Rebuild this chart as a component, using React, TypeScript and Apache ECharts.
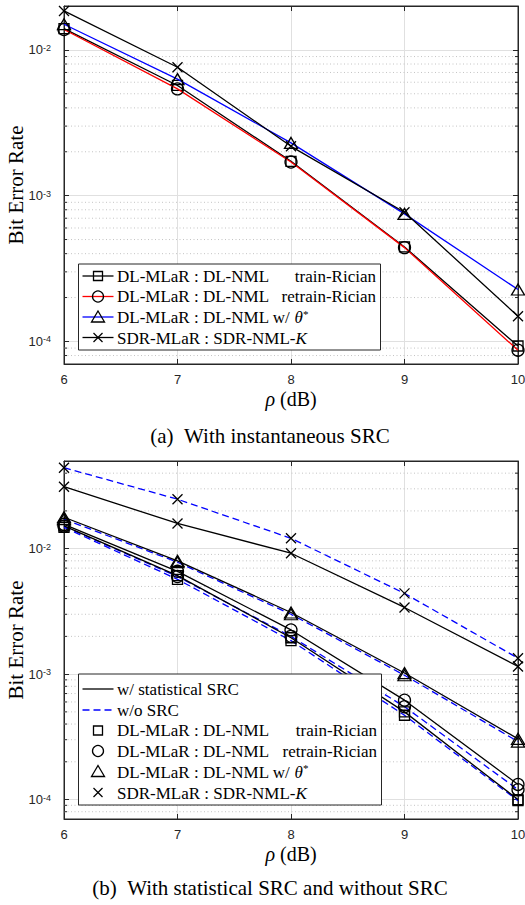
import React, { useEffect, useRef } from "react";
import * as echarts from "echarts";

// ---------- data ----------
const rhoDb = [6, 7, 8, 9, 10];

// (a) With instantaneous SRC
const aDlTrainRician = [0.014, 0.0057, 0.00172, 0.000445, 0.000093];
const aDlRetrainRician = [0.0138, 0.0054, 0.0017, 0.00044, 0.000087];
const aDlThetaStar = [0.015, 0.0063, 0.0023, 0.00075, 0.000227];
const aSdrNmlK = [0.0185, 0.0076, 0.00218, 0.00077, 0.000149];

// (b) w/ statistical SRC (solid) and w/o SRC (dashed)
const bStatTrainRician = [0.0152, 0.0061, 0.00195, 0.0005, 0.0001];
const bStatRetrainRician = [0.0156, 0.0066, 0.00225, 0.00062, 0.000132];
const bStatThetaStar = [0.0178, 0.008, 0.0031, 0.00102, 0.000305];
const bStatSdrNmlK = [0.0312, 0.0159, 0.0092, 0.0034, 0.00115];
const bNoTrainRician = [0.0148, 0.0057, 0.00185, 0.00047, 0.000098];
const bNoRetrainRician = [0.0151, 0.006, 0.002, 0.00055, 0.00012];
const bNoThetaStar = [0.0172, 0.0078, 0.003, 0.00098, 0.00029];
const bNoSdrNmlK = [0.0442, 0.0248, 0.0121, 0.0044, 0.00134];

const aYRange = [7e-5, 0.02];
const bYRange = [7e-5, 0.05];
const aMinorTicks = [8e-5, 9e-5, 2e-4, 3e-4, 4e-4, 5e-4, 6e-4, 7e-4, 8e-4, 9e-4, 2e-3, 3e-3, 4e-3, 5e-3, 6e-3, 7e-3, 8e-3, 9e-3];
const bMinorTicks = [8e-5, 9e-5, 2e-4, 3e-4, 4e-4, 5e-4, 6e-4, 7e-4, 8e-4, 9e-4, 2e-3, 3e-3, 4e-3, 5e-3, 6e-3, 7e-3, 8e-3, 9e-3, 2e-2, 3e-2, 4e-2];

const xTitle = "{i|ρ} (dB)";
const yTitle = "Bit Error Rate";
const captionA = "(a)\u2002With instantaneous SRC";
const captionB = "(b)\u2002With statistical SRC and without SRC";

const legendMethodDl = "DL-MLaR : DL-NML";
const legendTrain = "train-Rician";
const legendRetrain = "retrain-Rician";
const legendTheta = "{n|DL-MLaR : DL-NML w/ }{i|θ}{s|*}";
const legendSdr = "{n|SDR-MLaR : SDR-NML-}{i|K}";
const legendStat = "w/ statistical SRC";
const legendNoSrc = "w/o SRC";

// ---------- styling ----------
const SERIF = "'Liberation Serif', 'Times New Roman', serif";
const SANS = "'Liberation Sans', Arial, Helvetica, sans-serif";
const AX = "#262626";
const RED = "#ff0000";
const BLUE = "#0000ff";
const BLACK = "#000000";
const DASH = [7, 4];

const SYM: Record<string, string> = {
  square: "rect",
  circle: "circle",
  triangle: "triangle",
  x: "path://M0,0L10,10M10,0L0,10",
};
const SYM_SIZE: Record<string, any> = {
  square: 10,
  circle: 12,
  triangle: [13, 11],
  x: 10,
};

function lineSeries(name: string, values: number[], color: string, marker: string, dashed: boolean, gi: number, z = 3) {
  return {
    type: "line",
    name,
    xAxisIndex: gi * 2,
    yAxisIndex: gi * 2,
    data: rhoDb.map((x, i) => [x, values[i]]),
    symbol: SYM[marker],
    symbolSize: SYM_SIZE[marker],
    showSymbol: true,
    lineStyle: { color, width: 1.3, type: dashed ? DASH : "solid" },
    itemStyle: { color: "rgba(0,0,0,0)", borderColor: BLACK, borderWidth: 1.3 },
    emphasis: { disabled: true },
    silent: true,
    z,
  };
}

function minorSeries(vals: number[], gi: number) {
  return {
    type: "custom",
    xAxisIndex: gi * 2,
    yAxisIndex: gi * 2,
    data: vals.map((v) => [6, v]),
    encode: { x: 0, y: 1 },
    z: 1,
    silent: true,
    renderItem: (_params: any, api: any) => {
      const v = api.value(1);
      const p1 = api.coord([6, v]);
      const p2 = api.coord([10, v]);
      return {
        type: "group",
        children: [
          { type: "line", shape: { x1: p1[0], y1: p1[1], x2: p2[0], y2: p2[1] }, style: { stroke: "#c4c4c4", lineWidth: 1, lineDash: [1, 2.5] } },
          { type: "line", shape: { x1: p1[0], y1: p1[1], x2: p1[0] + 3, y2: p1[1] }, style: { stroke: AX, lineWidth: 1 } },
          { type: "line", shape: { x1: p2[0] - 3, y1: p2[1], x2: p2[0], y2: p2[1] }, style: { stroke: AX, lineWidth: 1 } },
        ],
      };
    },
  };
}

const logLabel = (v: number) => {
  const l = Math.log10(v);
  const e = Math.round(l);
  if (Math.abs(l - e) > 1e-6) return "";
  return `{b|10}{s|${e}}`;
};

function xMain(gi: number) {
  return {
    type: "value",
    gridIndex: gi,
    min: 6,
    max: 10,
    interval: 1,
    position: "bottom",
    name: xTitle,
    nameLocation: "middle",
    nameGap: 26,
    nameMoveOverlap: false,
    nameTextStyle: {
      fontFamily: SERIF,
      fontSize: 20,
      lineHeight: 17,
      color: BLACK,
      rich: { i: { fontFamily: SERIF, fontSize: 20, lineHeight: 17, fontStyle: "italic", color: BLACK } },
    },
    axisLine: { show: true, onZero: false, lineStyle: { color: AX, width: 1 } },
    axisTick: { show: true, inside: true, length: 5, lineStyle: { color: AX, width: 1 } },
    axisLabel: { show: true, fontFamily: SANS, fontSize: 13, lineHeight: 12, color: AX, margin: 9 },
    splitLine: { show: true, showMinLine: false, showMaxLine: false, lineStyle: { color: "#e0e0e0", width: 1 } },
  };
}
function xTop(gi: number) {
  return {
    type: "value",
    gridIndex: gi,
    min: 6,
    max: 10,
    interval: 1,
    position: "top",
    axisLine: { show: true, onZero: false, lineStyle: { color: AX, width: 1 } },
    axisTick: { show: true, inside: true, length: 5, lineStyle: { color: AX, width: 1 } },
    axisLabel: { show: false },
    splitLine: { show: false },
  };
}
function yLeft(gi: number, range: number[]) {
  return {
    type: "log",
    logBase: 10,
    gridIndex: gi,
    min: range[0],
    max: range[1],
    position: "left",
    name: yTitle,
    nameLocation: "middle",
    nameGap: 38,
    nameRotate: 90,
    nameMoveOverlap: false,
    nameTextStyle: { fontFamily: SERIF, fontSize: 21, color: BLACK },
    axisLine: { show: true, lineStyle: { color: AX, width: 1 } },
    axisTick: { show: true, inside: true, length: 5, lineStyle: { color: AX, width: 1 } },
    axisLabel: {
      show: true,
      margin: 13,
      formatter: logLabel,
      rich: {
        b: { fontFamily: SANS, fontSize: 13, color: AX, lineHeight: 13, verticalAlign: "bottom" },
        s: { fontFamily: SANS, fontSize: 9, color: AX, lineHeight: 10, verticalAlign: "top", padding: [0, 0, 5, 0] },
      },
    },
    splitLine: { show: true, showMinLine: false, showMaxLine: false, lineStyle: { color: "#e0e0e0", width: 1 } },
    minorTick: { show: false },
    minorSplitLine: { show: false },
  };
}
function yRight(gi: number, range: number[]) {
  return {
    type: "log",
    logBase: 10,
    gridIndex: gi,
    min: range[0],
    max: range[1],
    position: "right",
    axisLine: { show: true, lineStyle: { color: AX, width: 1 } },
    axisTick: { show: true, inside: true, length: 5, lineStyle: { color: AX, width: 1 } },
    axisLabel: { show: false },
    splitLine: { show: false },
  };
}

// ---------- legend drawn with graphic elements ----------
const MS = { fill: "none", stroke: BLACK, lineWidth: 1.3 };
function legendMarker(kind: string, cx: number, cy: number): any[] {
  if (kind === "square") return [{ type: "rect", z: 101, shape: { x: cx - 4.5, y: cy - 4.5, width: 9, height: 9 }, style: MS }];
  if (kind === "circle") return [{ type: "circle", z: 101, shape: { cx, cy, r: 5.5 }, style: MS }];
  if (kind === "triangle")
    return [{ type: "polygon", z: 101, shape: { points: [[cx, cy - 6], [cx + 6.5, cy + 5], [cx - 6.5, cy + 5]] }, style: MS }];
  if (kind === "x")
    return [
      { type: "line", z: 101, shape: { x1: cx - 4.5, y1: cy - 4.5, x2: cx + 4.5, y2: cy + 4.5 }, style: { stroke: BLACK, lineWidth: 1.3 } },
      { type: "line", z: 101, shape: { x1: cx + 4.5, y1: cy - 4.5, x2: cx - 4.5, y2: cy + 4.5 }, style: { stroke: BLACK, lineWidth: 1.3 } },
    ];
  return [];
}

const LEG_RICH = {
  n: { fontFamily: SERIF, fontSize: 17, color: BLACK, lineHeight: 18, verticalAlign: "bottom" },
  i: { fontFamily: SERIF, fontSize: 17, fontStyle: "italic", color: BLACK, lineHeight: 18, verticalAlign: "bottom" },
  s: { fontFamily: SERIF, fontSize: 11, color: BLACK, lineHeight: 11, verticalAlign: "top", padding: [0, 0, 7, 0] },
};

function legendText(str: string, x: number, y: number, align = "left"): any {
  return {
    type: "text",
    z: 101,
    x,
    y,
    style: {
      text: str,
      fontFamily: SERIF,
      fontSize: 17,
      fill: BLACK,
      align,
      verticalAlign: "middle",
      rich: LEG_RICH,
    },
  };
}

type Row = { line?: string; dashed?: boolean; marker?: string; text: string; right?: string };

function legendGraphic(box: { x: number; y: number; w: number; h: number }, rows: Row[], rowYs: number[]) {
  const els: any[] = [
    {
      type: "rect",
      z: 100,
      shape: { x: box.x, y: box.y, width: box.w, height: box.h },
      style: { fill: "#ffffff", stroke: AX, lineWidth: 1 },
    },
  ];
  rows.forEach((r, k) => {
    const y = rowYs[k];
    if (r.line) {
      els.push({
        type: "line",
        z: 101,
        shape: { x1: box.x + 4, y1: y, x2: box.x + 35, y2: y },
        style: { stroke: r.line, lineWidth: 1.3, lineDash: r.dashed ? DASH : null },
      });
    }
    if (r.marker) els.push(...legendMarker(r.marker, box.x + 19.5, y));
    els.push(legendText(r.text, box.x + 38.5, y));
    if (r.right) els.push(legendText(r.right, box.x + box.w - 4.5, y, "right"));
  });
  return els;
}

const aLegendRows: Row[] = [
  { line: BLACK, marker: "square", text: legendMethodDl, right: legendTrain },
  { line: RED, marker: "circle", text: legendMethodDl, right: legendRetrain },
  { line: BLUE, marker: "triangle", text: legendTheta },
  { line: BLACK, marker: "x", text: legendSdr },
];
const bLegendRows: Row[] = [
  { line: BLACK, text: legendStat },
  { line: BLUE, dashed: true, text: legendNoSrc },
  { marker: "square", text: legendMethodDl, right: legendTrain },
  { marker: "circle", text: legendMethodDl, right: legendRetrain },
  { marker: "triangle", text: legendTheta },
  { marker: "x", text: legendSdr },
];

function caption(str: string, x: number, y: number) {
  return {
    type: "text",
    z: 100,
    x,
    y,
    style: { text: str, fontFamily: SERIF, fontSize: 21, fill: BLACK, align: "center", verticalAlign: "middle" },
  };
}

export default function App() {
  const ref = useRef<HTMLDivElement>(null);
  useEffect(() => {
    if (!ref.current) return;
    const chart = echarts.init(ref.current, undefined, { renderer: "svg" });
    const option: any = {
      animation: false,
      backgroundColor: "#ffffff",
      grid: [
        { left: 64, top: 6, width: 454, height: 358, show: true, borderColor: AX, borderWidth: 1, backgroundColor: "transparent", outerBoundsMode: "none", containLabel: false },
        { left: 64, top: 461, width: 454, height: 358, show: true, borderColor: AX, borderWidth: 1, backgroundColor: "transparent", outerBoundsMode: "none", containLabel: false },
      ],
      xAxis: [xMain(0), xTop(0), xMain(1), xTop(1)],
      yAxis: [yLeft(0, aYRange), yRight(0, aYRange), yLeft(1, bYRange), yRight(1, bYRange)],
      series: [
        minorSeries(aMinorTicks, 0),
        lineSeries("a-train", aDlTrainRician, BLACK, "square", false, 0, 3),
        lineSeries("a-retrain", aDlRetrainRician, RED, "circle", false, 0, 4),
        lineSeries("a-theta", aDlThetaStar, BLUE, "triangle", false, 0, 5),
        lineSeries("a-sdr", aSdrNmlK, BLACK, "x", false, 0, 6),
        minorSeries(bMinorTicks, 1),
        lineSeries("b-stat-train", bStatTrainRician, BLACK, "square", false, 1, 4),
        lineSeries("b-stat-retrain", bStatRetrainRician, BLACK, "circle", false, 1, 4),
        lineSeries("b-stat-theta", bStatThetaStar, BLACK, "triangle", false, 1, 4),
        lineSeries("b-stat-sdr", bStatSdrNmlK, BLACK, "x", false, 1, 4),
        lineSeries("b-no-train", bNoTrainRician, BLUE, "square", true, 1, 3),
        lineSeries("b-no-retrain", bNoRetrainRician, BLUE, "circle", true, 1, 3),
        lineSeries("b-no-theta", bNoThetaStar, BLUE, "triangle", true, 1, 3),
        lineSeries("b-no-sdr", bNoSdrNmlK, BLUE, "x", true, 1, 3),
      ],
      graphic: [
        ...legendGraphic({ x: 78.5, y: 264, w: 302, h: 86 }, aLegendRows, [276, 296.5, 317, 337.5]),
        ...legendGraphic({ x: 78.5, y: 674, w: 303, h: 131 }, bLegendRows, [689, 710, 730.5, 751, 771.5, 792.5]),
        caption(captionA, 270, 436),
        caption(captionB, 270, 888),
      ],
    };
    chart.setOption(option);
    return () => chart.dispose();
  }, []);
  return <div ref={ref} style={{ position: "absolute", left: 0, top: 0, width: 525, height: 905 }} />;
}
